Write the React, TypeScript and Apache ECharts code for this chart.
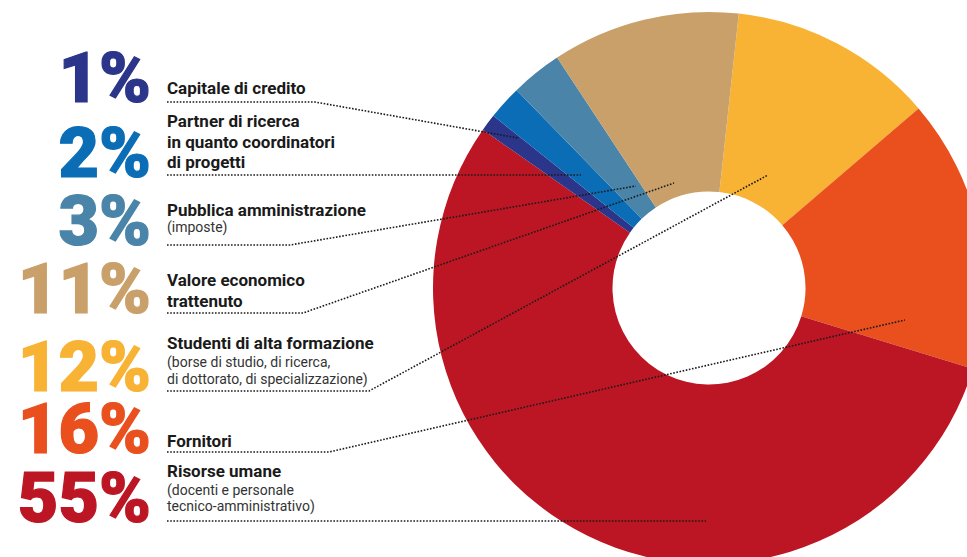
import React, { useEffect, useRef } from "react";
import * as echarts from "echarts";

// ---- data (clockwise from the top of the ring) ----
const categories = [
  "Studenti di alta formazione",
  "Fornitori",
  "Risorse umane",
  "Capitale di credito",
  "Partner di ricerca",
  "Pubblica amministrazione",
  "Valore economico trattenuto",
];
const values = [12, 16, 55, 1, 2, 3, 11];
const sliceColors = ["#f8b234", "#e9501e", "#bc1624", "#2b3589", "#0a6db5", "#4a84a8", "#c9a06a"];

// ---- legend texts (top to bottom) ----
const legendOrder = [3, 4, 5, 6, 0, 1, 2];
const percentLabels = ["1%", "2%", "3%", "11%", "12%", "16%", "55%"];
const titleLines = [
  ["Capitale di credito"],
  ["Partner di ricerca", "in quanto coordinatori", "di progetti"],
  ["Pubblica amministrazione"],
  ["Valore economico", "trattenuto"],
  ["Studenti di alta formazione"],
  ["Fornitori"],
  ["Risorse umane"],
];
const subLines = [
  [],
  [],
  ["(imposte)"],
  [],
  ["(borse di studio, di ricerca,", "di dottorato, di specializzazione)"],
  [],
  ["(docenti e personale", "tecnico-amministrativo)"],
];

// ---- layout (pixels) ----
const numBaselines = [102, 177, 245, 313, 391, 453, 522];
const titleBaselines = [[94], [127, 148, 168], [216], [286, 307], [349], [447], [477]];
const subBaselines = [[], [], [232], [], [367, 384], [], [495, 511]];
const underlineY = [102, 175, 245, 313, 391, 452, 521];
const bendX = [315, 580, 290, 303, 369, 329, 706];
const anchors = [
  [518, 138],
  [581, 175],
  [636, 186],
  [674, 183],
  [768, 175],
  [905, 320],
  [706, 521],
];

const CX = 709;
const CY = 288;
const TEXT_X = 167;
const NUM_X = 151;

function mid(baseline: number, fs: number) {
  return baseline - 0.342 * fs;
}

export default function App() {
  const ref = useRef<HTMLDivElement>(null);
  useEffect(() => {
    if (!ref.current) return;
    const chart = echarts.init(ref.current, undefined, { renderer: "svg" });

    const graphics: any[] = [];
    legendOrder.forEach((dataIdx, i) => {
      const color = sliceColors[dataIdx];
      graphics.push({
        type: "text",
        z: 50,
        style: {
          text: percentLabels[i],
          x: NUM_X,
          y: mid(numBaselines[i], 70),
          fill: color,
          stroke: color,
          lineWidth: 1.2,
          fontFamily: "Roboto",
          fontWeight: 900,
          fontSize: 70,
          lineHeight: 54,
          align: "right",
          textAlign: "right",
          verticalAlign: "middle",
          textVerticalAlign: "middle",
        },
      });
      titleLines[i].forEach((t, j) => {
        graphics.push({
          type: "text",
          z: 50,
          style: {
            text: t,
            x: TEXT_X,
            y: mid(titleBaselines[i][j], 17),
            fill: "#1a1a1a",
            fontFamily: "Roboto",
            fontWeight: "bold",
            fontSize: 17,
            lineHeight: 18,
            align: "left",
            textAlign: "left",
            verticalAlign: "middle",
            textVerticalAlign: "middle",
          },
        });
      });
      subLines[i].forEach((t, j) => {
        graphics.push({
          type: "text",
          z: 50,
          style: {
            text: t,
            x: TEXT_X,
            y: mid(subBaselines[i][j], 14),
            fill: "#333333",
            fontFamily: "Roboto",
            fontWeight: "normal",
            fontSize: 14,
            lineHeight: 15,
            align: "left",
            textAlign: "left",
            verticalAlign: "middle",
            textVerticalAlign: "middle",
          },
        });
      });
      graphics.push({
        type: "polyline",
        z: 60,
        shape: {
          points: [
            [TEXT_X, underlineY[i]],
            [bendX[i], underlineY[i]],
            anchors[i],
          ],
        },
        style: {
          stroke: "#1a1a1a",
          lineWidth: 1.6,
          lineDash: [1.6, 1.6],
          fill: null,
        },
      });
    });

    chart.setOption({
      animation: false,
      backgroundColor: "#ffffff",
      series: [
        {
          type: "pie",
          center: [CX, CY],
          radius: [96.5, 276],
          startAngle: 83.8,
          clockwise: true,
          silent: true,
          label: { show: false },
          labelLine: { show: false },
          emphasis: { disabled: true },
          itemStyle: { borderWidth: 0 },
          data: categories.map((name, k) => ({
            name,
            value: values[k],
            itemStyle: { color: sliceColors[k] },
          })),
        },
      ],
      graphic: graphics,
    });
    return () => chart.dispose();
  }, []);
  return (
    <div
      ref={ref}
      style={{ position: "absolute", left: 0, top: 0, width: 967, height: 557 }}
    />
  );
}
